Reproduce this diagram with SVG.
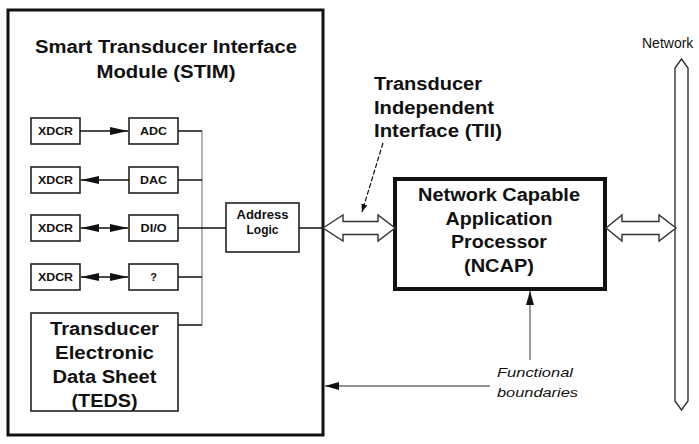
<svg xmlns="http://www.w3.org/2000/svg" width="699" height="444" viewBox="0 0 699 444">
<style>
text{font-family:"Liberation Sans",Arial,sans-serif;fill:#111;text-anchor:middle}
.b{font-weight:bold}
.box{fill:#fff;stroke:#222;stroke-width:1.6}
.ln{stroke:#111;stroke-width:1.5;fill:none}
.bus{stroke:#999;stroke-width:1.5;fill:none}
.hollow{fill:#fff;stroke:#333;stroke-width:1.4;stroke-linejoin:miter}
</style>
<defs>
<marker id="ah" viewBox="0 0 10 10" refX="10" refY="5" markerWidth="8" markerHeight="6" preserveAspectRatio="none" markerUnits="userSpaceOnUse" orient="auto-start-reverse"><path d="M0,0 L10,5 L0,10 z" fill="#111"/></marker>
<marker id="ahs" viewBox="0 0 10 10" refX="10" refY="5" markerWidth="18" markerHeight="8" preserveAspectRatio="none" markerUnits="userSpaceOnUse" orient="auto-start-reverse"><path d="M0,0 L10,5 L0,10 z" fill="#111"/></marker>
<marker id="ahf" viewBox="0 0 10 10" refX="10" refY="5" markerWidth="14" markerHeight="8" preserveAspectRatio="none" markerUnits="userSpaceOnUse" orient="auto-start-reverse"><path d="M0,0 L10,5 L0,10 z" fill="#111"/></marker>
</defs>

<g id="stim">
<rect x="8" y="10" width="315" height="425" fill="#fff" stroke="#111" stroke-width="3"/>
<text class="b" x="166" y="53" font-size="18" textLength="262" lengthAdjust="spacingAndGlyphs">Smart Transducer Interface</text>
<text class="b" x="166" y="78" font-size="18" textLength="139" lengthAdjust="spacingAndGlyphs">Module (STIM)</text>
</g>

<g id="xdcr1"><rect class="box" x="31" y="118" width="49" height="26"/><text class="b" x="55.5" y="135" font-size="11" textLength="35" lengthAdjust="spacingAndGlyphs">XDCR</text></g>
<g id="xdcr2"><rect class="box" x="31" y="167" width="49" height="26"/><text class="b" x="55.5" y="184" font-size="11" textLength="35" lengthAdjust="spacingAndGlyphs">XDCR</text></g>
<g id="xdcr3"><rect class="box" x="31" y="215" width="49" height="26"/><text class="b" x="55.5" y="232" font-size="11" textLength="35" lengthAdjust="spacingAndGlyphs">XDCR</text></g>
<g id="xdcr4"><rect class="box" x="31" y="264" width="49" height="26"/><text class="b" x="55.5" y="281" font-size="11" textLength="35" lengthAdjust="spacingAndGlyphs">XDCR</text></g>

<g id="adc"><rect class="box" x="129" y="118" width="49" height="26"/><text class="b" x="153.5" y="135" font-size="11" textLength="27" lengthAdjust="spacingAndGlyphs">ADC</text></g>
<g id="dac"><rect class="box" x="129" y="167" width="49" height="26"/><text class="b" x="153.5" y="184" font-size="11" textLength="27" lengthAdjust="spacingAndGlyphs">DAC</text></g>
<g id="dio"><rect class="box" x="129" y="215" width="49" height="26"/><text class="b" x="153.5" y="232" font-size="11" textLength="26" lengthAdjust="spacingAndGlyphs">DI/O</text></g>
<g id="unknown"><rect class="box" x="129" y="264" width="49" height="26"/><text class="b" x="153.5" y="281" font-size="11">?</text></g>

<g id="teds"><rect class="box" x="31" y="313" width="147" height="98"/>
<text class="b" x="104.5" y="335" font-size="18" textLength="109" lengthAdjust="spacingAndGlyphs">Transducer</text>
<text class="b" x="104.5" y="359" font-size="18" textLength="99" lengthAdjust="spacingAndGlyphs">Electronic</text>
<text class="b" x="104.5" y="383" font-size="18" textLength="104" lengthAdjust="spacingAndGlyphs">Data Sheet</text>
<text class="b" x="104.5" y="407" font-size="18" textLength="66" lengthAdjust="spacingAndGlyphs">(TEDS)</text>
</g>

<g id="address-logic"><rect class="box" x="226" y="203" width="73" height="49"/>
<text class="b" x="262.5" y="219" font-size="12" textLength="52" lengthAdjust="spacingAndGlyphs">Address</text>
<text class="b" x="262.5" y="234" font-size="12">Logic</text>
</g>

<g id="ncap"><rect x="395" y="179" width="210" height="110" fill="#fff" stroke="#111" stroke-width="4"/>
<text class="b" x="499" y="201" font-size="18" textLength="162" lengthAdjust="spacingAndGlyphs">Network Capable</text>
<text class="b" x="499" y="225" font-size="18" textLength="107" lengthAdjust="spacingAndGlyphs">Application</text>
<text class="b" x="499" y="248" font-size="18" textLength="96" lengthAdjust="spacingAndGlyphs">Processor</text>
<text class="b" x="499" y="272" font-size="18" textLength="70" lengthAdjust="spacingAndGlyphs">(NCAP)</text>
</g>

<g id="network">
<path class="hollow" d="M681.5,59 L688,68 L688,401 L681.5,410 L675,401 L675,68 Z" stroke="#777"/>
<text x="642" y="48" font-size="14" style="text-anchor:start">Network</text>
</g>

<g id="tii-label">
<text class="b" x="374" y="90" font-size="18" style="text-anchor:start" textLength="108" lengthAdjust="spacingAndGlyphs">Transducer</text>
<text class="b" x="374" y="114" font-size="18" style="text-anchor:start" textLength="120" lengthAdjust="spacingAndGlyphs">Independent</text>
<text class="b" x="374" y="137" font-size="18" style="text-anchor:start" textLength="128" lengthAdjust="spacingAndGlyphs">Interface (TII)</text>
</g>

<g id="functional-boundaries-label">
<text x="497" y="377" font-size="13" font-style="italic" style="text-anchor:start" textLength="76" lengthAdjust="spacingAndGlyphs">Functional</text>
<text x="497" y="397" font-size="13" font-style="italic" style="text-anchor:start" textLength="81" lengthAdjust="spacingAndGlyphs">boundaries</text>
</g>

<g id="connectors">
<line class="ln" x1="80" y1="131" x2="128" y2="131" stroke-width="1.2" marker-end="url(#ahs)"/>
<line class="ln" x1="129" y1="180" x2="81" y2="180" stroke-width="2" marker-end="url(#ahs)"/>
<line class="ln" x1="81" y1="228" x2="128" y2="228" stroke-width="2" marker-start="url(#ahs)" marker-end="url(#ahs)"/>
<line class="ln" x1="81" y1="277" x2="128" y2="277" stroke-width="2" marker-start="url(#ahs)" marker-end="url(#ahs)"/>
<line class="bus" x1="202" y1="131" x2="202" y2="325"/>
<line class="ln" x1="178" y1="131" x2="202" y2="131"/>
<line class="ln" x1="178" y1="180" x2="202" y2="180"/>
<line class="ln" x1="178" y1="228" x2="226" y2="228"/>
<line class="ln" x1="178" y1="277" x2="202" y2="277"/>
<line class="ln" x1="178" y1="325" x2="202" y2="325"/>
<line class="ln" x1="299" y1="228" x2="323" y2="228"/>
<path class="hollow" d="M323,228 L343,215 L343,221.5 L378,221.5 L378,215 L395,228 L378,241 L378,234.5 L343,234.5 L343,241 Z"/>
<path class="hollow" d="M606,228 L622,215 L622,221.5 L659,221.5 L659,215 L676,228 L659,241 L659,234.5 L622,234.5 L622,241 Z"/>
<line x1="383" y1="143" x2="362" y2="212" stroke="#111" stroke-width="1.2" stroke-dasharray="5,2" marker-end="url(#ah)"/>
<line x1="530" y1="360" x2="530" y2="291" stroke="#666" stroke-width="1.3" marker-end="url(#ahf)"/>
<line x1="490" y1="386" x2="325" y2="386" stroke="#222" stroke-width="1.2" marker-end="url(#ahf)"/>
</g>
</svg>
